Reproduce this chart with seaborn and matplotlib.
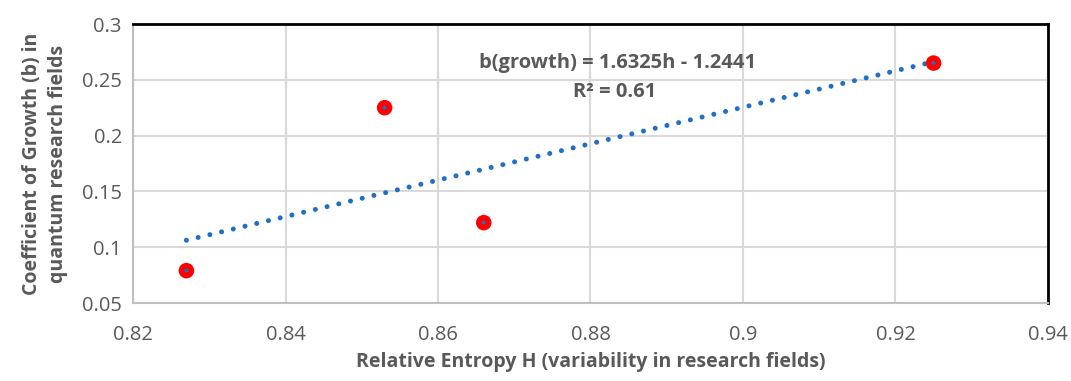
import matplotlib
matplotlib.use("Agg")
import matplotlib.pyplot as plt
import seaborn as sns
import pandas as pd

entropy = [0.827, 0.853, 0.866, 0.925]
growth = [0.079, 0.225, 0.122, 0.265]
x_ticks = [0.82, 0.84, 0.86, 0.88, 0.90, 0.92, 0.94]
x_tick_labels = ["0.82", "0.84", "0.86", "0.88", "0.9", "0.92", "0.94"]
y_ticks = [0.05, 0.10, 0.15, 0.20, 0.25, 0.30]
y_tick_labels = ["0.05", "0.1", "0.15", "0.2", "0.25", "0.3"]
equation_text = "b(growth) = 1.6325h - 1.2441"
r2_text = "R² = 0.61"

df = pd.DataFrame({"h": entropy, "b": growth})

sns.set_theme(style="white")
plt.rcParams['font.family'] = ['Open Sans', 'DejaVu Sans']

fig = plt.figure(figsize=(10.71, 3.81), dpi=100)
ax = fig.add_axes([0.1242, 0.2047, 0.8543, 0.7323])

sns.regplot(data=df, x="h", y="b", ax=ax, ci=None, scatter=False, truncate=True,
            line_kws=dict(color="#1f6fc6", lw=3.6, linestyle=(0, (0.01, 2.4)),
                          dash_capstyle="round", zorder=3))
sns.scatterplot(data=df, x="h", y="b", ax=ax, color="#ff0000", s=125,
                edgecolor="none", zorder=4, legend=False)
sns.scatterplot(data=df, x="h", y="b", ax=ax, color="#1f6fc6", s=8,
                edgecolor="none", zorder=5, legend=False)

ax.set_xlim(0.82, 0.94)
ax.set_ylim(0.05, 0.30)
ax.set_xticks(x_ticks)
ax.set_xticklabels(x_tick_labels)
ax.set_yticks(y_ticks)
ax.set_yticklabels(y_tick_labels)
ax.tick_params(axis="both", labelsize=14.5, colors="#595959", length=0)
ax.tick_params(axis="x", pad=16)
ax.tick_params(axis="y", pad=8)
ax.grid(True, color="#d9d9d9", lw=1.5)
ax.set_axisbelow(True)

for s in ["left", "bottom"]:
    ax.spines[s].set_color("#bfbfbf")
    ax.spines[s].set_linewidth(1.5)
for s in ["top", "right"]:
    ax.spines[s].set_color("black")
    ax.spines[s].set_linewidth(2)

ax.set_xlabel("Relative Entropy H (variability in research fields)", fontsize=14,
              fontweight="bold", color="#595959", labelpad=5)
ax.set_ylabel("Coefficient of Growth (b) in\nquantum research fields", fontsize=14,
              fontweight="bold", color="#595959", labelpad=10, linespacing=1.4)

ax.text(0.8835, 0.2655, equation_text, fontsize=14.5, fontweight="bold",
        color="#595959", ha="center", va="center", zorder=6)
ax.text(0.8832, 0.239, r2_text, fontsize=14.5, fontweight="bold",
        color="#595959", ha="center", va="center", zorder=6)

fig.savefig("out.png", dpi=100)
